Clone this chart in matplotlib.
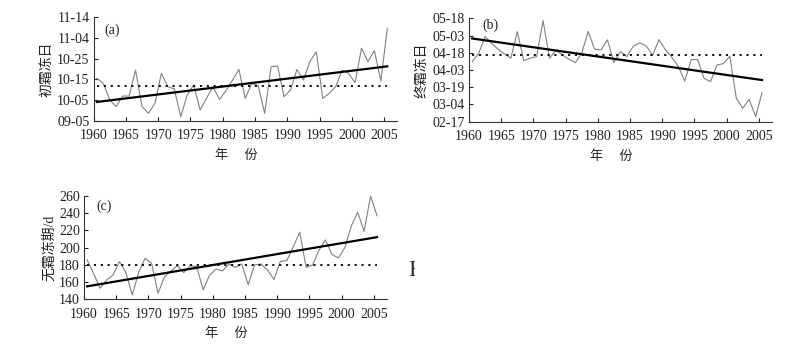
import numpy as np
import matplotlib
matplotlib.use("Agg")
import matplotlib.pyplot as plt
from matplotlib.patches import Rectangle

years = np.arange(1960, 2006)

# (a) first frost date, days counted up from the lowest tick (10 days per tick)
first_frost = [20.5, 18.1, 10.1, 6.9, 12.0, 12.0, 24.5, 6.9, 3.7, 8.5,
               22.9, 16.5, 15.4, 2.1, 12.5, 17.3, 5.3, 11.0, 16.5, 10.4,
               14.5, 19.5, 24.8, 10.9, 18.1, 17.0, 3.7, 26.1, 26.4, 11.7,
               14.9, 24.8, 19.7, 28.5, 33.3, 10.9, 13.3, 16.5, 24.5, 22.9,
               18.4, 35.0, 28.5, 33.8, 19.2, 44.6]
first_ticks = ["09-05", "10-05", "10-15", "10-25", "11-04", "11-14"]

# (b) last frost date, days after 02-17
last_frost = [52.3, 59.6, 74.1, 68.3, 63.1, 59.0, 55.3, 78.5, 53.2, 55.3,
              56.7, 88.0, 55.3, 61.9, 58.2, 54.4, 51.4, 59.6, 78.5, 63.1,
              62.5, 71.2, 51.5, 61.0, 56.7, 65.7, 68.6, 66.0, 57.8, 71.5,
              62.5, 56.0, 48.0, 35.3, 54.1, 54.1, 37.8, 34.9, 49.4, 50.6,
              57.0, 20.4, 11.7, 19.5, 4.4, 25.3]
last_ticks = ["02-17", "03-04", "03-19", "04-03", "04-18", "05-03", "05-18"]

# (c) frost-free period, days
frost_free = [185.6, 170, 152.8, 162.4, 168, 183.7, 171.4, 145, 171.4, 187.6,
              181.8, 147, 166, 173, 179, 171, 179, 178, 151, 168,
              175, 173, 181, 177, 181, 157, 180, 181, 174, 163,
              184, 185, 201, 218, 177, 180, 197, 209, 192, 188,
              200, 225, 241, 219, 260, 237]

year_ticks = np.arange(1960, 2006, 5)

plt.rcParams['font.family'] = ['Liberation Serif', 'Noto Sans CJK SC']
plt.rcParams['font.size'] = 10

fig = plt.figure(figsize=(8.12, 3.5), dpi=100)

def draw(ax, vals, ylim, yticks, ylabels, ylab, tag, tagpos):
    vals = np.array(vals, dtype=float)
    ax.plot(years, vals, color='#808080', lw=0.8)
    k, b = np.polyfit(years, vals, 1)
    ax.plot(years, k * years + b, color='black', lw=1.6)
    base = (years >= 1971) & (years <= 2000)
    ax.plot([years[0], years[-1]], [vals[base].mean()] * 2, color='black',
            lw=1.3, linestyle=(0, (1.2, 2.6)))
    ax.set_xlim(1959.5, 2006.5)
    ax.set_ylim(*ylim)
    ax.set_xticks(year_ticks - 0.5)
    ax.set_xticklabels([str(y) for y in year_ticks])
    ax.set_yticks(yticks)
    ax.set_yticklabels(ylabels)
    for s in ['top', 'right']:
        ax.spines[s].set_visible(False)
    for s in ['left', 'bottom']:
        ax.spines[s].set_linewidth(0.8)
        ax.spines[s].set_color('#333333')
    ax.tick_params(direction='in', length=3, width=0.8, colors='#222222',
                   labelsize=10)
    ax.tick_params(axis='x', pad=6)
    ax.tick_params(axis='y', pad=3)
    ax.set_ylabel(ylab, fontsize=10, family=['Liberation Serif', 'Noto Sans CJK SC'],
                  labelpad=2, color='#222222')
    ax.set_xlabel('年\u3000 份', fontsize=9.5, family='Noto Sans CJK SC', color='#222222')
    ax.xaxis.set_label_coords(0.47, -0.27)
    ax.text(tagpos[0], tagpos[1], tag, transform=ax.transAxes, fontsize=10,
            ha='left', va='center', color='#222222')

ax1 = fig.add_axes([0.1153, 0.6543, 0.3736, 0.2971])
draw(ax1, first_frost, (0, 50), np.arange(0, 51, 10), first_ticks,
     '初霜冻日', '(a)', (0.035, 0.875))

ax2 = fig.add_axes([0.5776, 0.6523, 0.3728, 0.2954])
draw(ax2, last_frost, (0, 90), np.arange(0, 91, 15), last_ticks,
     '终霜冻日', '(b)', (0.045, 0.935))

ax3 = fig.add_axes([0.1034, 0.1449, 0.3728, 0.2951])
draw(ax3, frost_free, (140, 260), np.arange(140, 261, 20),
     [str(v) for v in range(140, 261, 20)], '无霜冻期/d', '(c)', (0.04, 0.896))

# leftover edge of a letter from the scanned page
t = fig.text(408 / 812, 1 - 270 / 350, 'F', fontsize=17, ha='left', va='center',
             color='#333333')
t.set_clip_path(Rectangle((0, 0), 415 / 812, 1, transform=fig.transFigure))

fig.savefig('out.png', dpi=100, facecolor='white')
